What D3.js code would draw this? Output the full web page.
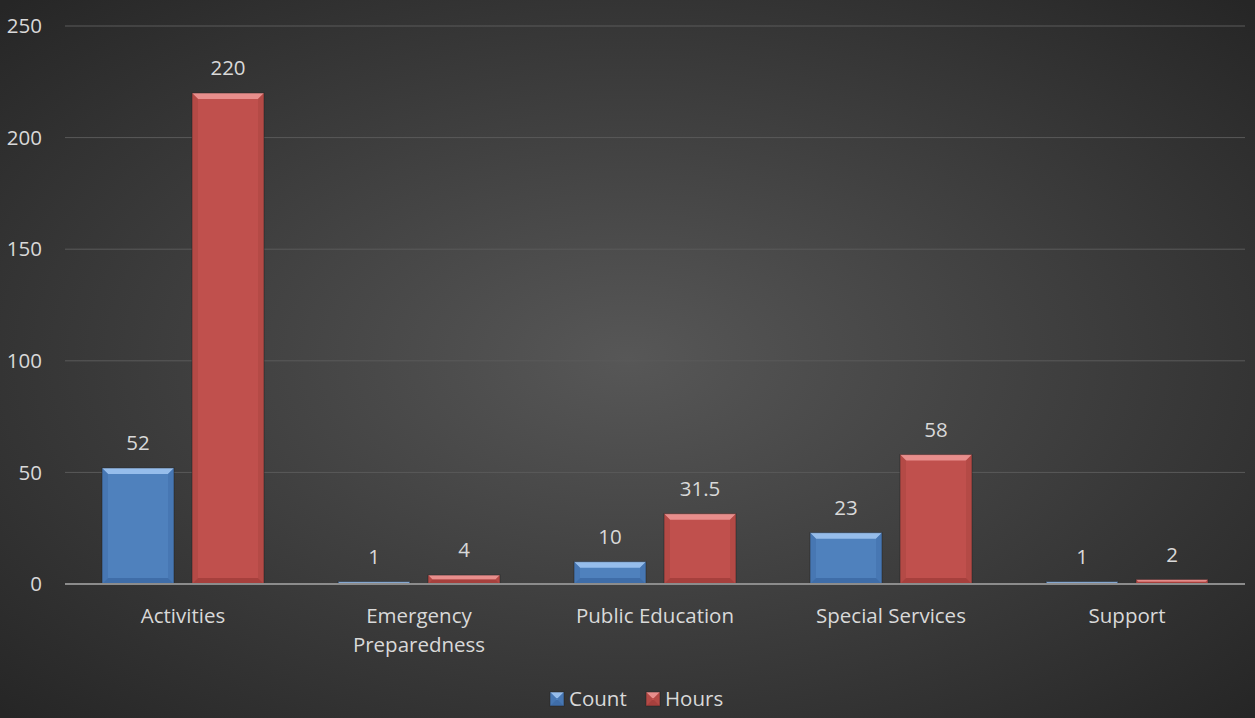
<!DOCTYPE html>
<html>
<head>
<meta charset="utf-8">
<script src="https://cdn.jsdelivr.net/npm/d3@7"></script>
<style>
  body { margin: 0; background: #333; }
  svg { display: block; }
</style>
</head>
<body>
<div id="chart"></div>
<script>
// chart data
const categories = ["Activities", "Emergency Preparedness", "Public Education", "Special Services", "Support"];
const countValues = [52, 1, 10, 23, 1];
const hoursValues = [220, 4, 31.5, 58, 2];
const seriesNames = ["Count", "Hours"];
const yTicks = [0, 50, 100, 150, 200, 250];

const W = 1255, H = 718;
const margin = { top: 26, right: 10, bottom: 134, left: 65 };
const plotW = 1245 - margin.left;
const plotH = 584 - margin.top;
const font = "'Open Sans', 'Noto Sans', sans-serif";
const fontSize = "20.5px";
const textColor = "#d9d9d9";

const svg = d3.select("#chart").append("svg")
  .attr("width", W)
  .attr("height", H);

// background radial gradient
const defs = svg.append("defs");
const bg = defs.append("radialGradient").attr("id", "bg")
  .attr("cx", "50%").attr("cy", "50%").attr("r", "70%");
bg.append("stop").attr("offset", "0%").attr("stop-color", "#575757");
bg.append("stop").attr("offset", "100%").attr("stop-color", "#262626");
svg.append("rect").attr("width", W).attr("height", H).attr("fill", "url(#bg)");

const g = svg.append("g").attr("transform", `translate(${margin.left},${margin.top})`);

const x0 = d3.scaleBand().domain(categories).range([0, plotW]).paddingInner(0).paddingOuter(0);
const yScale = d3.scaleLinear().domain([0, 250]).range([plotH, 0]);

const barW = 72, barGap = 18;
const groupW = barW * 2 + barGap;

// gridlines
g.selectAll(".grid")
  .data(yTicks.filter(d => d > 0))
  .join("line")
  .attr("x1", 0).attr("x2", plotW)
  .attr("y1", d => yScale(d)).attr("y2", d => yScale(d))
  .attr("stroke", "#5a5a5a").attr("stroke-width", 1);

// y tick labels
g.selectAll(".ytick")
  .data(yTicks)
  .join("text")
  .attr("x", -23)
  .attr("y", d => yScale(d))
  .attr("dy", "0.35em")
  .attr("text-anchor", "end")
  .attr("fill", textColor)
  .style("font-family", font)
  .style("font-size", fontSize)
  .text(d => d);

const series = [
  { name: "Count", values: countValues, base: "#4f81bd", light: "#9dc3f0", dark: "#35609a", side: "#4574b0" },
  { name: "Hours", values: hoursValues, base: "#c0504d", light: "#ec9593", dark: "#953533", side: "#b04845" }
];

// draws a bevelled bar
function bevelBar(sel, x, y, w, h, s) {
  const b = Math.min(6, h / 2, w / 2);
  sel.append("rect").attr("x", x).attr("y", y).attr("width", w).attr("height", h).attr("fill", s.base);
  // top
  sel.append("polygon")
    .attr("points", [[x, y], [x + w, y], [x + w - b, y + b], [x + b, y + b]].join(" "))
    .attr("fill", s.light).attr("opacity", 0.9);
  // left
  sel.append("polygon")
    .attr("points", [[x, y], [x + b, y + b], [x + b, y + h - b], [x, y + h]].join(" "))
    .attr("fill", s.side).attr("opacity", 0.8);
  // right
  sel.append("polygon")
    .attr("points", [[x + w, y], [x + w - b, y + b], [x + w - b, y + h - b], [x + w, y + h]].join(" "))
    .attr("fill", s.side).attr("opacity", 0.8);
  // bottom
  sel.append("polygon")
    .attr("points", [[x, y + h], [x + b, y + h - b], [x + w - b, y + h - b], [x + w, y + h]].join(" "))
    .attr("fill", s.dark).attr("opacity", 0.6);
  sel.append("rect").attr("x", x).attr("y", y).attr("width", w).attr("height", h)
    .attr("fill", "none").attr("stroke", "#222").attr("stroke-opacity", 0.5).attr("stroke-width", 1);
}

categories.forEach((c, i) => {
  const gx = x0(c) + (x0.bandwidth() - groupW) / 2;
  series.forEach((s, j) => {
    const v = s.values[i];
    const bx = gx + j * (barW + barGap);
    const by = yScale(v);
    const bh = plotH - by;
    const bar = g.append("g");
    bevelBar(bar, bx, by, barW, bh, s);
    g.append("text")
      .attr("x", bx + barW / 2)
      .attr("y", by - 25)
      .attr("dy", "0.35em")
      .attr("text-anchor", "middle")
      .attr("fill", textColor)
      .style("font-family", font)
      .style("font-size", fontSize)
      .text(v);
  });
});

// x axis line
g.append("line")
  .attr("x1", 0).attr("x2", plotW)
  .attr("y1", plotH).attr("y2", plotH)
  .attr("stroke", "#8c8c8c").attr("stroke-width", 2);

// category labels (wrapped)
const wrapped = { "Emergency Preparedness": ["Emergency", "Preparedness"] };
categories.forEach(c => {
  const lines = wrapped[c] || [c];
  const t = g.append("text")
    .attr("x", x0(c) + x0.bandwidth() / 2)
    .attr("y", plotH + 39)
    .attr("text-anchor", "middle")
    .attr("fill", textColor)
    .style("font-family", font)
    .style("font-size", fontSize);
  lines.forEach((l, k) => {
    t.append("tspan").attr("x", x0(c) + x0.bandwidth() / 2).attr("dy", k === 0 ? 0 : 29).text(l);
  });
});

// legend
const legend = svg.append("g").attr("transform", "translate(550,692)");
const legendX = [0, 96];
series.forEach((s, j) => {
  const lg = legend.append("g").attr("transform", `translate(${legendX[j]},0)`);
  bevelBar(lg, 0, 0, 14, 14, s);
  lg.append("text")
    .attr("x", 19).attr("y", 7).attr("dy", "0.35em")
    .attr("fill", textColor)
    .style("font-family", font)
    .style("font-size", fontSize)
    .text(seriesNames[j]);
});
</script>
</body>
</html>
